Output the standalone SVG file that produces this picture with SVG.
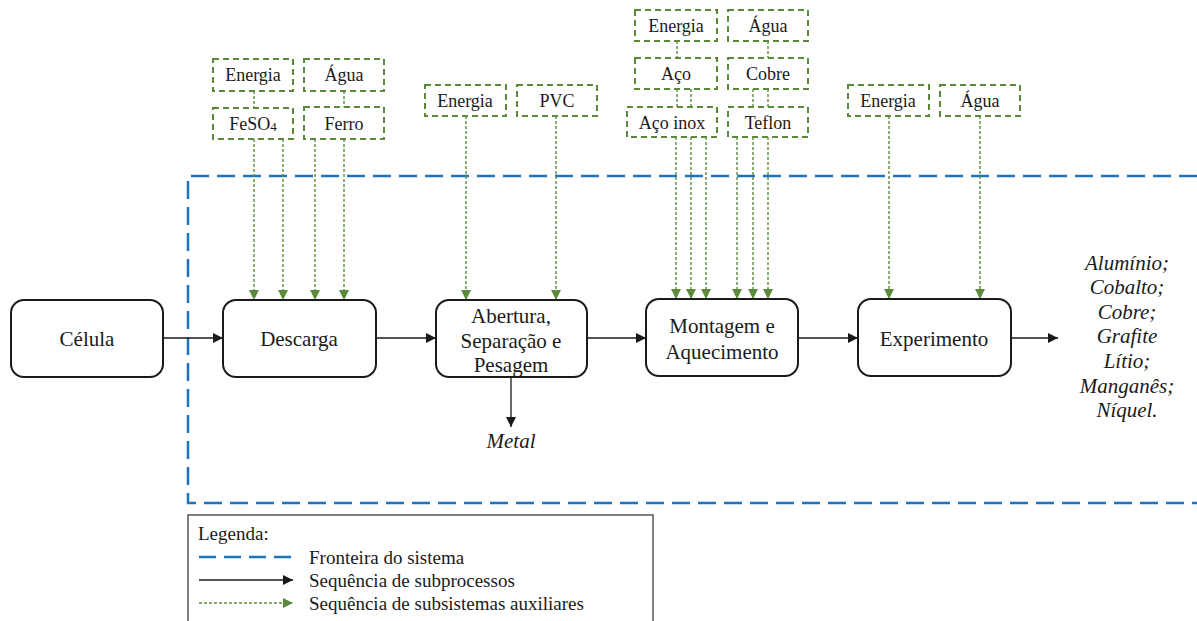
<svg xmlns="http://www.w3.org/2000/svg" width="1197" height="621" viewBox="0 0 1197 621" font-family="Liberation Serif, Times New Roman, serif">
  <style>
    .proc { fill: #ffffff; stroke: #1a1a1a; stroke-width: 2; }
    .aux { fill: #ffffff; stroke: #5b8a3c; stroke-width: 2; stroke-dasharray: 6 4; }
    .t { fill: #1a1a1a; text-anchor: middle; dominant-baseline: central; }
    .tp { font-size: 21px; }
    .ta { font-size: 18px; }
    .out { font-size: 21px; font-style: italic; }
    .flow { stroke: #1a1a1a; stroke-width: 1.3; fill: none; marker-end: url(#ah); }
    .feed { stroke: #5b8a3c; stroke-width: 1.4; stroke-dasharray: 3 2; fill: none; marker-end: url(#gh); }
    .link { stroke: #5b8a3c; stroke-width: 1.4; stroke-dasharray: 3 2; fill: none; }
    .bound { stroke: #1e73be; stroke-width: 2.5; stroke-dasharray: 18 8; fill: none; }
    .leg { font-size: 19px; fill: #1a1a1a; dominant-baseline: central; }
  </style>
  <defs>
    <marker id="ah" viewBox="0 0 10 10" refX="10" refY="5" markerWidth="10" markerHeight="10" markerUnits="userSpaceOnUse" orient="auto">
      <path d="M0,0 L10,5 L0,10 z" fill="#1a1a1a"/>
    </marker>
    <marker id="gh" viewBox="0 0 10 10" refX="10" refY="5" markerWidth="10" markerHeight="10" markerUnits="userSpaceOnUse" orient="auto">
      <path d="M0,0 L10,5 L0,10 z" fill="#5b8a3c"/>
    </marker>
  </defs>

  <rect width="1197" height="621" fill="#ffffff"/>

  <!-- system boundary -->
  <path class="bound" d="M1197,176 H188 V503 H1197"/>

  <!-- connectors -->
  <g id="connectors">
    <!-- main process sequence -->
    <line class="flow" x1="163" y1="338" x2="223" y2="338"/>
    <line class="flow" x1="376" y1="338" x2="436" y2="338"/>
    <line class="flow" x1="587" y1="338" x2="646" y2="338"/>
    <line class="flow" x1="798" y1="338" x2="858" y2="338"/>
    <line class="flow" x1="1011" y1="338" x2="1058" y2="338"/>
    <line class="flow" x1="511" y1="377" x2="511" y2="427"/>

    <!-- auxiliary links between stacked inputs -->
    <line class="link" x1="254" y1="91" x2="254" y2="108"/>
    <line class="link" x1="344" y1="91" x2="344" y2="107"/>
    <line class="link" x1="677" y1="41" x2="677" y2="58"/>
    <line class="link" x1="768" y1="41" x2="768" y2="58"/>
    <line class="link" x1="677" y1="89" x2="677" y2="107"/>
    <line class="link" x1="691" y1="89" x2="691" y2="107"/>
    <line class="link" x1="753" y1="89" x2="753" y2="107"/>
    <line class="link" x1="768" y1="89" x2="768" y2="107"/>

    <!-- auxiliary feeds into processes -->
    <line class="feed" x1="254" y1="139" x2="254" y2="300"/>
    <line class="feed" x1="283" y1="139" x2="283" y2="300"/>
    <line class="feed" x1="315" y1="139" x2="315" y2="300"/>
    <line class="feed" x1="344" y1="139" x2="344" y2="300"/>

    <line class="feed" x1="466" y1="116" x2="466" y2="300"/>
    <line class="feed" x1="556" y1="116" x2="556" y2="300"/>

    <line class="feed" x1="676" y1="137" x2="676" y2="299"/>
    <line class="feed" x1="691" y1="137" x2="691" y2="299"/>
    <line class="feed" x1="706" y1="137" x2="706" y2="299"/>
    <line class="feed" x1="737" y1="137" x2="737" y2="299"/>
    <line class="feed" x1="753" y1="137" x2="753" y2="299"/>
    <line class="feed" x1="768" y1="137" x2="768" y2="299"/>

    <line class="feed" x1="889" y1="116" x2="889" y2="299"/>
    <line class="feed" x1="980" y1="116" x2="980" y2="299"/>
  </g>

  <!-- process nodes -->
  <g id="celula">
    <rect class="proc" x="11" y="300" width="152" height="77" rx="13"/>
    <text class="t tp" x="87" y="339">Célula</text>
  </g>
  <g id="descarga">
    <rect class="proc" x="223" y="300" width="153" height="77" rx="13"/>
    <text class="t tp" x="299" y="339">Descarga</text>
  </g>
  <g id="abertura">
    <rect class="proc" x="436" y="300" width="151" height="77" rx="13"/>
    <text class="t tp" x="511" y="316">Abertura,</text>
    <text class="t tp" x="511" y="341">Separação e</text>
    <text class="t tp" x="511" y="365">Pesagem</text>
  </g>
  <g id="montagem">
    <rect class="proc" x="646" y="299" width="152" height="77" rx="13"/>
    <text class="t tp" x="722" y="326">Montagem e</text>
    <text class="t tp" x="722" y="352">Aquecimento</text>
  </g>
  <g id="experimento">
    <rect class="proc" x="858" y="299" width="153" height="77" rx="13"/>
    <text class="t tp" x="934" y="339">Experimento</text>
  </g>

  <!-- outputs -->
  <g id="metal">
    <text class="t out" x="511" y="441">Metal</text>
  </g>
  <g id="produtos">
    <text class="t out" x="1127" y="263">Alumínio;</text>
    <text class="t out" x="1127" y="287">Cobalto;</text>
    <text class="t out" x="1127" y="312">Cobre;</text>
    <text class="t out" x="1127" y="336">Grafite</text>
    <text class="t out" x="1127" y="361">Lítio;</text>
    <text class="t out" x="1127" y="386">Manganês;</text>
    <text class="t out" x="1127" y="410">Níquel.</text>
  </g>

  <!-- auxiliary inputs: Descarga -->
  <g id="aux-energia-1">
    <rect class="aux" x="213" y="59" width="80" height="32"/>
    <text class="t ta" x="253" y="75">Energia</text>
  </g>
  <g id="aux-agua-1">
    <rect class="aux" x="304" y="59" width="80" height="32"/>
    <text class="t ta" x="344" y="75">Água</text>
  </g>
  <g id="aux-feso4">
    <rect class="aux" x="213" y="108" width="80" height="31"/>
    <text class="t ta" x="253" y="124">FeSO<tspan font-size="13" dy="2">4</tspan></text>
  </g>
  <g id="aux-ferro">
    <rect class="aux" x="304" y="107" width="80" height="32"/>
    <text class="t ta" x="344" y="124">Ferro</text>
  </g>

  <!-- auxiliary inputs: Abertura -->
  <g id="aux-energia-2">
    <rect class="aux" x="425" y="85" width="81" height="31"/>
    <text class="t ta" x="465" y="101">Energia</text>
  </g>
  <g id="aux-pvc">
    <rect class="aux" x="517" y="85" width="80" height="31"/>
    <text class="t ta" x="557" y="101">PVC</text>
  </g>

  <!-- auxiliary inputs: Montagem -->
  <g id="aux-energia-3">
    <rect class="aux" x="635" y="10" width="82" height="31"/>
    <text class="t ta" x="676" y="26">Energia</text>
  </g>
  <g id="aux-agua-3">
    <rect class="aux" x="728" y="10" width="80" height="31"/>
    <text class="t ta" x="768" y="26">Água</text>
  </g>
  <g id="aux-aco">
    <rect class="aux" x="635" y="58" width="82" height="31"/>
    <text class="t ta" x="676" y="74">Aço</text>
  </g>
  <g id="aux-cobre">
    <rect class="aux" x="728" y="58" width="80" height="31"/>
    <text class="t ta" x="768" y="74">Cobre</text>
  </g>
  <g id="aux-aco-inox">
    <rect class="aux" x="627" y="107" width="90" height="30"/>
    <text class="t ta" x="672" y="123">Aço inox</text>
  </g>
  <g id="aux-teflon">
    <rect class="aux" x="728" y="107" width="80" height="30"/>
    <text class="t ta" x="768" y="123">Teflon</text>
  </g>

  <!-- auxiliary inputs: Experimento -->
  <g id="aux-energia-4">
    <rect class="aux" x="848" y="85" width="81" height="31"/>
    <text class="t ta" x="888" y="101">Energia</text>
  </g>
  <g id="aux-agua-4">
    <rect class="aux" x="940" y="85" width="80" height="31"/>
    <text class="t ta" x="980" y="101">Água</text>
  </g>

  <!-- legend -->
  <g id="legenda">
    <rect x="188" y="515" width="465" height="120" fill="#ffffff" stroke="#555555" stroke-width="1.5"/>
    <text class="leg" x="198" y="533">Legenda:</text>
    <line x1="199" y1="557" x2="293" y2="557" stroke="#1e73be" stroke-width="2.5" stroke-dasharray="17 8"/>
    <text class="leg" x="309" y="557">Fronteira do sistema</text>
    <line class="flow" x1="199" y1="580" x2="293" y2="580"/>
    <text class="leg" x="309" y="580">Sequência de subprocessos</text>
    <line class="feed" x1="199" y1="603" x2="293" y2="603"/>
    <text class="leg" x="309" y="603">Sequência de subsistemas auxiliares</text>
  </g>
</svg>
